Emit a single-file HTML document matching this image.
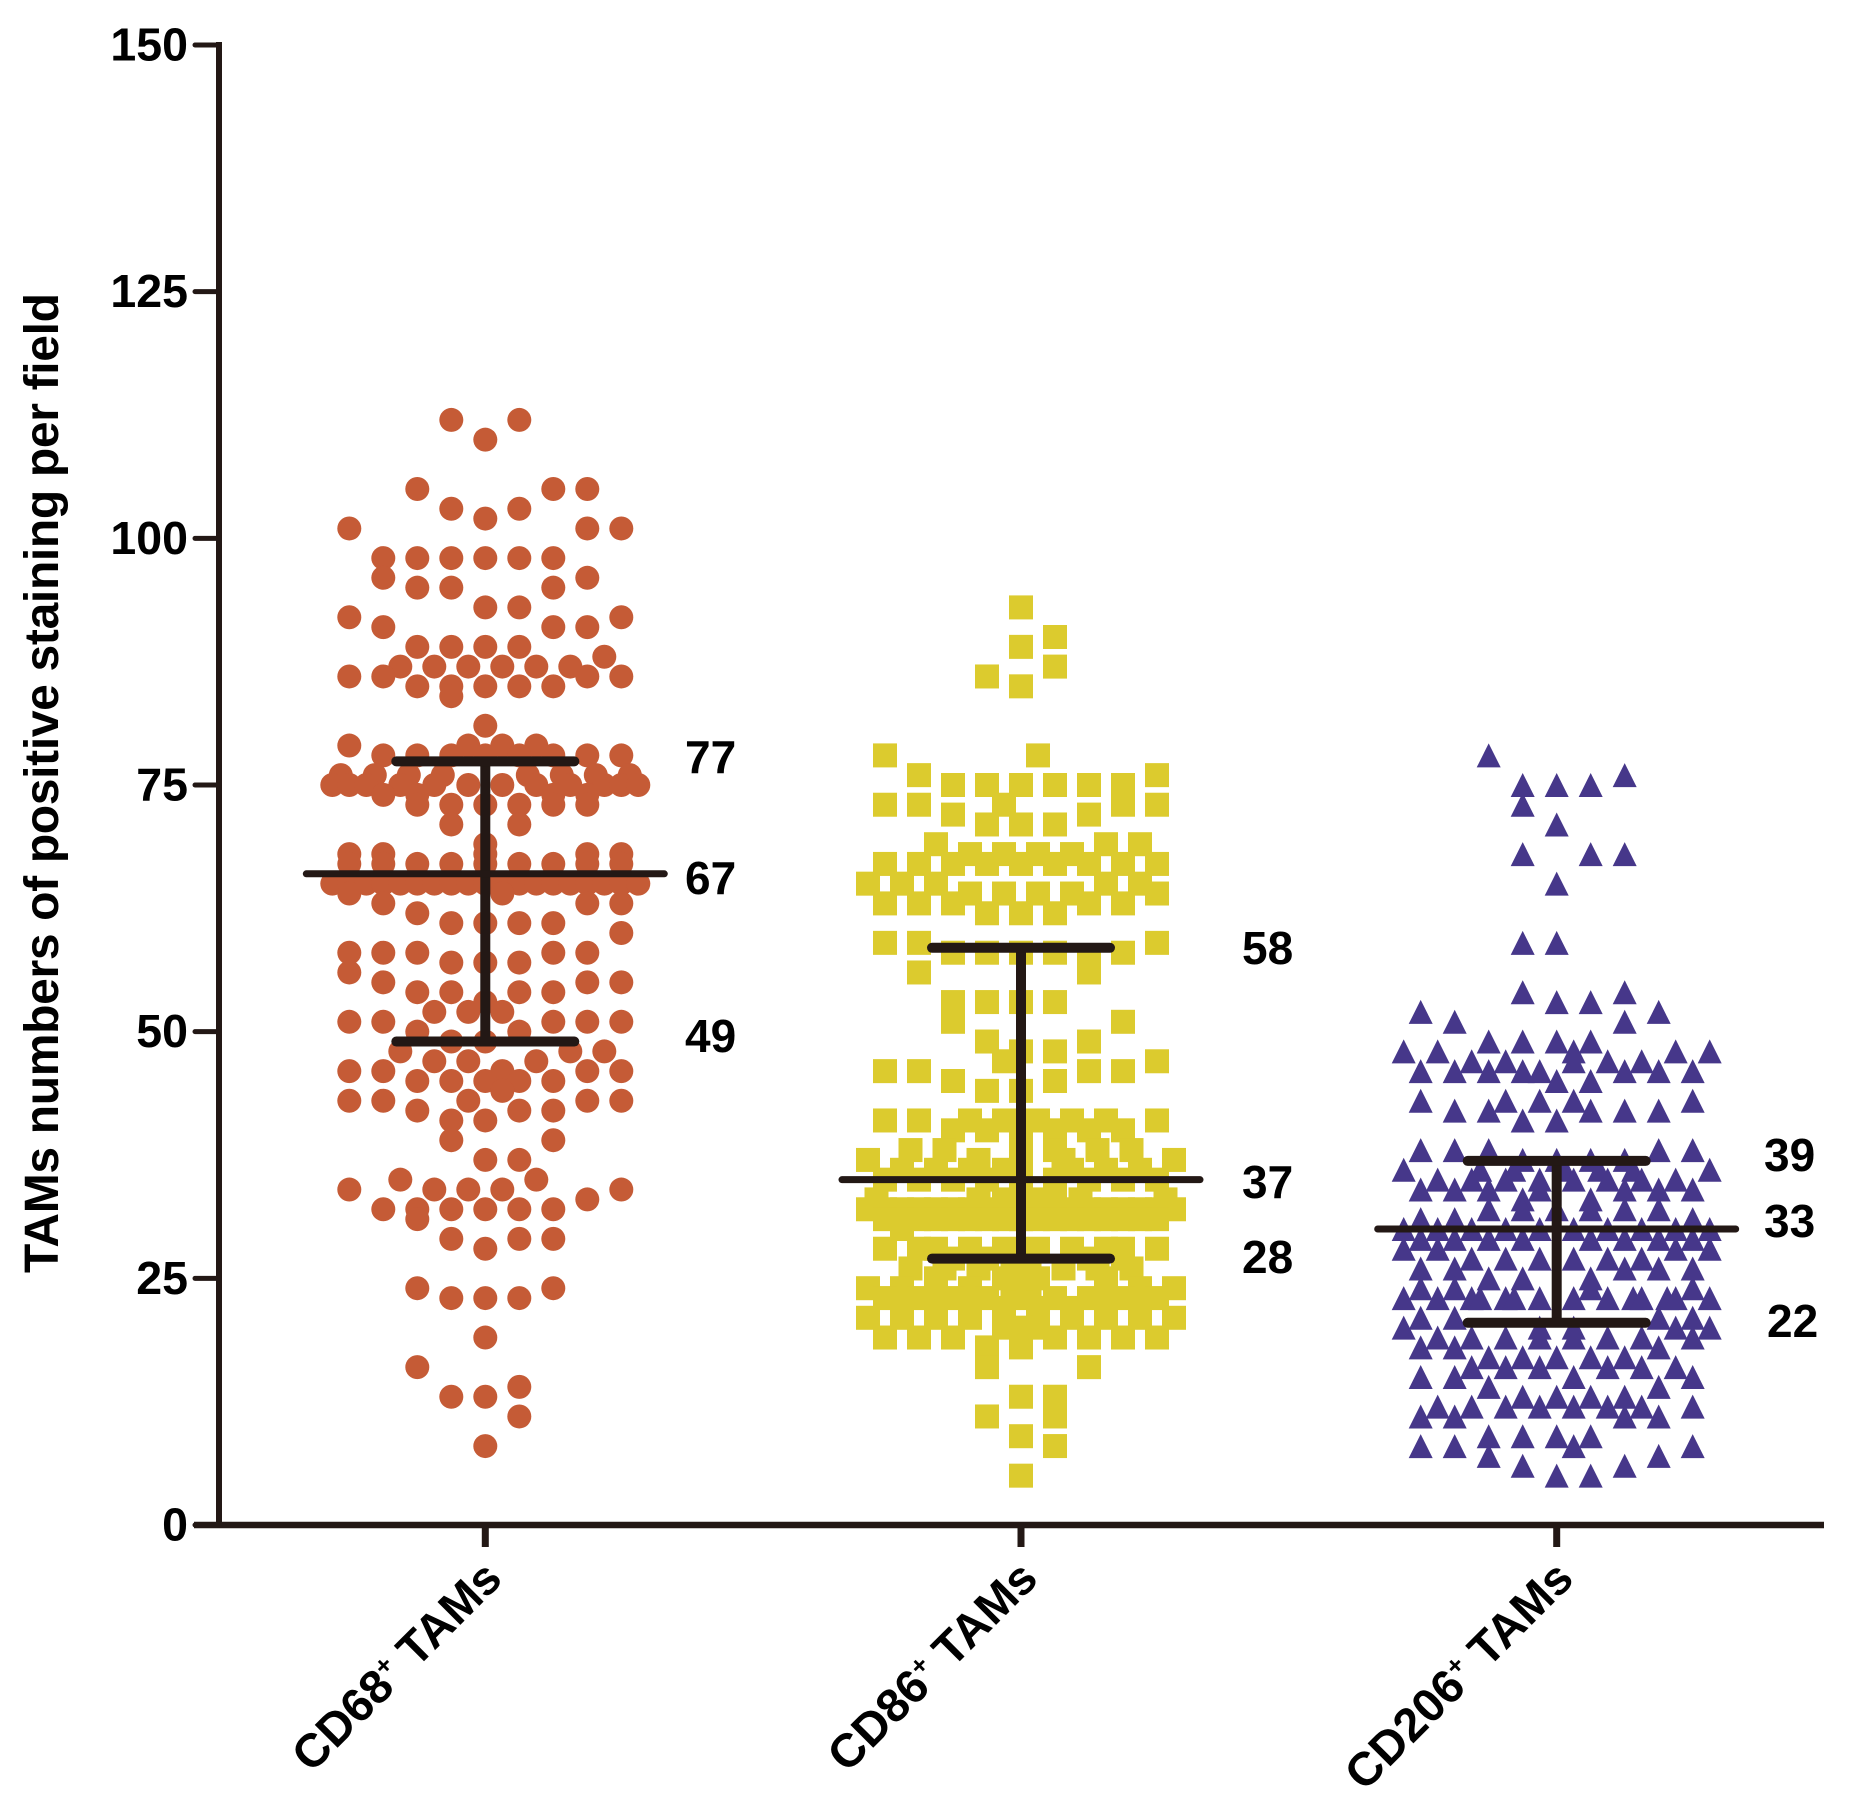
<!DOCTYPE html>
<html>
<head>
<meta charset="utf-8">
<title>TAMs numbers of positive staining per field</title>
<style>
html,body{margin:0;padding:0;background:#fff;}
svg{display:block;}
text{font-family:"Liberation Sans",Arial,sans-serif;font-weight:bold;fill:#000;}
</style>
</head>
<body>
<svg id="chart" xmlns="http://www.w3.org/2000/svg" width="1862" height="1807" viewBox="0 0 1862 1807">
  <rect width="1862" height="1807" fill="#fff"/>
  <g id="marks"></g>
  <g id="bars"></g>
  <g id="axes"></g>
  <text x="58" y="783" font-size="48" text-anchor="middle" textLength="980" lengthAdjust="spacing" transform="rotate(-90 58 783)">TAMs numbers of positive staining per field</text>
  <g font-size="46">
    <text x="685" y="773">77</text>
    <text x="685" y="894">67</text>
    <text x="685" y="1052">49</text>
    <text x="1242" y="964">58</text>
    <text x="1242" y="1198">37</text>
    <text x="1242" y="1273">28</text>
    <text x="1764" y="1171">39</text>
    <text x="1764" y="1237">33</text>
    <text x="1767" y="1337">22</text>
  </g>
</svg>
<script>
const categories = ["CD68", "CD86", "CD206"];
const yTicks = [0, 25, 50, 75, 100, 125, 150];
const medians = [66, 35, 30];
const lowerBars = [49, 27, 20.5];
const upperBars = [77.4, 58.5, 36.9];

const cd68Values = [
112,112,110,
105,105,105,103,103,102,101,101,101,
98,98,98,98,98,98,96,96,95,95,95,
93,93,92,92,91,91,91,89,89,89,89,88,
87,87,87,87,87,87,86,86,86,86,85,85,85,85,85,84,
81,79,79,79,79,78,78,78,78,78,78,78,78,
76,76,76,76,76,76,76,76,
75,75,75,75,75,75,75,75,75,75,75,75,
74,74,74,74,73,73,73,73,73,73,71,71,
69,68,68,68,68,68,
67,67,67,67,67,67,67,67,67,
65,65,65,65,65,65,65,65,65,65,65,65,65,65,65,65,65,65,65,
64,64,63,63,63,62,61,61,61,61,60,
58,58,58,58,58,57,57,57,56,55,55,55,
54,54,54,54,53,52,52,52,51,51,51,51,51,50,50,
49,49,48,48,48,47,47,47,46,46,46,46,46,
45,45,45,45,45,44,43,43,43,43,43,42,42,42,41,41,
39,39,37,37,35,35,34,34,34,34,34,33,
32,32,32,32,32,32,31,29,29,29,28,
24,24,23,23,23,19,16,14,13,13,11,8
];
const cd68Lanes = [
-2,2,0,
-4,4,6,-2,2,0,-8,6,8,
-6,-4,-2,0,2,4,-6,6,-4,-2,4,
0,2,-8,8,-6,4,6,-4,-2,0,2,7,
-5,-3,-1,1,3,5,-8,-6,6,8,-4,-2,0,2,4,-2,
0,-8,-1,1,3,-6,-4,-2,2,4,6,8,0,
-8.5,-6.5,-4.5,-2.5,2.5,4.5,6.5,8.5,
-9,-8,-7,-5,-3,-1,1,3,5,7,8,9,
-6,-4,4,6,-4,4,6,-2,0,2,-2,2,
0,-8,-6,6,8,0,
-8,-6,-4,-2,2,4,6,8,0,
-9,-8,-7,-6,-5,-4,-3,-2,-1,0,1,2,3,4,5,6,7,8,9,
-8,1,-6,6,8,-4,-2,0,2,4,8,
-8,-6,-4,4,6,-2,0,2,-8,-6,6,8,
-4,-2,2,4,0,-3,-1,1,-8,-6,4,6,8,-4,2,
-2,0,-5,5,7,-3,-1,3,-8,-6,6,8,1,
-4,-2,0,2,4,1,-8,-6,6,8,-1,-4,2,4,-2,0,
-2,4,0,2,-5,3,-8,-3,-1,1,8,6,
-6,-4,-2,0,2,4,-4,-2,2,4,0,
-4,4,-2,0,2,0,-4,2,-2,0,2,0
];

const cd86Values = [
93,90,89,87,86,85,78,78,76,76,
75,75,75,75,75,75,73,73,73,73,73,72,72,71,71,71,
69,69,69,68,68,68,68,
67,67,67,67,67,67,67,67,67,
65,65,65,65,65,64,64,64,64,64,63,63,63,63,63,62,62,62,
59,59,59,58,58,58,58,58,57,56,56,
53,53,53,53,51,51,49,49,48,48,47,47,46,46,46,46,45,45,44,44,
41,41,41,41,41,41,41,41,40,40,40,40,40,40,
38,38,38,38,38,38,37,37,37,37,37,
36,36,36,36,36,36,36,
35,35,35,35,35,35,35,35,35,
33,33,33,33,33,33,33,33,
32,32,32,32,32,32,32,32,32,32,
32,32,32,32,32,32,32,32,32,
31,31,31,31,31,31,31,31,31,30,
31,31,31,31,31,31,31,31,
28,28,28,28,28,28,28,28,28,28,
27,27,27,27,27,
26,26,26,26,26,26,26,26,
24,24,24,24,24,24,24,24,24,
23,23,23,23,23,23,23,23,23,
22,22,22,22,22,22,22,22,
21,21,21,21,21,21,21,21,21,21,
25,25,25,25,25,
20,20,20,19,19,19,19,19,19,19,18,18,16,16,13,13,11,11,9,8,5
];
const cd86Lanes = [
0,2,0,2,-2,0,-8,1,-6,8,
-4,-2,0,2,4,6,-8,-6,-1,6,8,-4,4,-2,0,2,
-5,5,7,-3,-1,1,3,
-8,-6,-4,-2,0,2,4,6,8,
-9,-7,-5,5,7,-3,-1,1,3,8,-8,-6,-4,4,6,-2,0,2,
-8,-6,8,-4,-2,0,2,6,4,-6,4,
-4,-2,0,2,-4,6,-2,4,0,2,-1,8,-8,-6,4,6,-4,2,-2,0,
-8,-6,-3,-1,1,3,5,8,-4,-2,0,2,4,6,
-6.5,-4.5,0,2,4.5,6.5,-9,-2.5,0,2.5,9,
-7,-5,-3,-1,3,5,7,
-8,-6,-4,-2,0,2,4,6,8,
-8.5,-2.5,-1,0,1,2,3.5,8.5,
-9,-7,-5,-3,-1,1,3,5,7,9,
-8,-6,-4,-2,0,2,4,6,8,
-8,-6,-4,-2,0,2,4,6,8,-7,
-7,-5,-3,-1,1,3,5,7,
-8,8,-6,-5,-3,-1,1,3,5,6,
-4,-2,0,4,6,
-6.5,-4.5,-2.5,-0.5,0.5,2.5,4.5,6.5,
-9,9,-7,-5,-3,-0.5,0.5,5,7,
-8,-6,-4,-2,0,2,4,6,8,
-7,-5,-3,-1,1,3,5,7,
-9,-7,-5,-3,-1,1,3,5,7,9,
-5,-1,0,1,5,
-1,0,1,-8,-6,-4,2,4,6,8,-2,0,-2,4,0,2,-2,2,0,2,0
];

const cd206Values = [
78,76,75,75,75,73,71,68,68,68,65,59,59,54,54,53,53,52,52,51,51,
49,49,49,49,48,48,48,48,48,47,47,47,47,47,
46,46,46,46,46,46,46,46,45,45,43,43,43,43,43,42,42,42,42,42,41,41,
38,38,38,38,38,37,37,37,37,
36,36,36,36,36,36,36,35,35,35,35,35,35,35,35,
34,34,34,34,34,34,34,33,33,32,32,32,32,32,32,31,31,31,
30,30,30,30,30,30,30,30,30,30,
29,29,29,29,29,29,29,29,28,28,28,28,
27,27,27,27,27,27,26,26,26,26,26,25,25,25,24,24,24,24,
23,23,23,23,23,23,23,23,23,23,23,23,23,23,
21,21,21,21,20,20,20,20,20,
19,19,19,19,19,19,19,19,18,18,18,17,17,17,17,17,
16,16,16,16,16,16,15,15,15,15,14,14,13,13,13,13,
12,12,12,12,12,12,12,12,11,11,11,11,9,9,9,9,8,8,8,8,7,7,6,6,5,5
];
const cd206Lanes = [
-4,4,-2,0,2,-2,0,-2,2,4,0,-2,0,-2,4,0,2,-8,6,-6,4,
-4,-2,0,2,-9,-7,7,9,1,-5,-3,3,5,1,
-8,-6,-4,-2,-1,4,6,8,0,2,-8,-3,-1,1,8,-6,-4,2,4,6,-2,0,
-8,-6,-4,6,8,-2,0,2,4,
-9,-4.5,-2.5,0.5,2.5,4.5,9,-7,-5,-3,-1,1,3,5,7,
-8,-6,-4,-1,4,6,8,-2,2,-4,-2,0,2,4,6,-8,-6,8,
-9,-7,-5,-3,-1,1,3,5,7,9,
-8,-6,-4,-2,2,4,6,8,-9,-7,7,9,
-5,-3,-1,1,3,5,-8,-6,4,6,8,-4,-2,2,-8,-6,8,2,
-9,-7,-5,-4.5,-3,-2.5,-1,1,3,4.5,5,6.5,7,9,
-8,-6,6,8,-9,7,9,-1,1,
-7,-5,-3,-1,1,3,5,8,-8,-6,6,-4,-2,0,2,4,
-5,-3,-1,3,5,7,-8,-6,1,8,-4,6,-2,0,2,4,
-7,-5,-3,-1,1,3,5,8,-8,-6,4,6,-4,-2,0,2,-8,-6,1,8,-4,6,-2,4,0,2
];

const SVG_NS = "http://www.w3.org/2000/svg";
const INK = "#231815";
const plotBottom = 1525;
const pxPerUnit = 1480 / 150;
const firstCenter = 485.3;
const categoryStep = 535.7;
const laneStep = 17;
const markSize = 24;

function yScale(v) { return plotBottom - v * pxPerUnit; }
function xScale(i) { return firstCenter + i * categoryStep; }
function laneX(i, lane) { return xScale(i) + lane * laneStep; }

function make(tag, parent, attrs) {
  const el = document.createElementNS(SVG_NS, tag);
  for (const k in attrs) el.setAttribute(k, attrs[k]);
  parent.appendChild(el);
  return el;
}

const marks = document.getElementById("marks");
const bars = document.getElementById("bars");
const axes = document.getElementById("axes");

const r = markSize / 2;
cd68Values.forEach(function (v, n) {
  const dot = make("circle", marks, { cx: laneX(0, cd68Lanes[n]), cy: yScale(v), r: r, fill: "#C55B36" });
  
  
});
cd86Values.forEach(function (v, n) {
  const sq = make("rect", marks, { x: laneX(1, cd86Lanes[n]) - r, y: yScale(v) - r, width: markSize, height: markSize, fill: "#DCCB2E" });
  
  
});
cd206Values.forEach(function (v, n) {
  const x = laneX(2, cd206Lanes[n]);
  const y = yScale(v);
  const tri = make("polygon", marks, { points: x + "," + (y - r) + " " + (x + r) + "," + (y + r) + " " + (x - r) + "," + (y + r), fill: "#46378A" });
  
  
});

categories.forEach(function (name, i) {
  const cx = xScale(i);
  const stem = make("line", bars, { x1: cx, x2: cx, y1: yScale(upperBars[i]), y2: yScale(lowerBars[i]), stroke: INK, "stroke-width": 10 });
  
  
  const med = make("line", bars, { x1: cx - 179, x2: cx + 179, y1: yScale(medians[i]), y2: yScale(medians[i]), stroke: INK, "stroke-width": 7, "stroke-linecap": "round" });
  
  
  [upperBars[i], lowerBars[i]].forEach(function (b) {
    const cap = make("line", bars, { x1: cx - 89, x2: cx + 89, y1: yScale(b), y2: yScale(b), stroke: INK, "stroke-width": 10, "stroke-linecap": "round" });
    
    
  });
});

const yAxisLine = make("line", axes, { x1: 219, x2: 219, y1: yScale(150) - 3, y2: plotBottom + 3, stroke: INK, "stroke-width": 6 });


const xAxisLine = make("line", axes, { x1: 194, x2: 1824, y1: plotBottom, y2: plotBottom, stroke: INK, "stroke-width": 6.5 });



yTicks.forEach(function (t) {
  const y = yScale(t);
  const tick = make("line", axes, { x1: 195, x2: 219, y1: y, y2: y, stroke: INK, "stroke-width": 5, "stroke-linecap": "round" });
  
  
  const label = make("text", axes, { x: 188, y: y + 15.5, "font-size": 46.5, "text-anchor": "end" });
  label.textContent = String(t);
  
  
});

categories.forEach(function (name, i) {
  const cx = xScale(i);
  const tick = make("line", axes, { x1: cx, x2: cx, y1: plotBottom, y2: plotBottom + 22, stroke: INK, "stroke-width": 7 });
  
  
  const ax = cx + 19;
  const ay = plotBottom + 56;
  const label = make("text", axes, { x: ax, y: ay, "font-size": 47, "text-anchor": "end", transform: "rotate(-45 " + ax + " " + ay + ")" });
  
  
  const a = make("tspan", label, {});
  a.textContent = name;
  const plus = make("tspan", label, { "font-size": 26, dy: -17 });
  plus.textContent = "+";
  const b = make("tspan", label, { dy: 17 });
  b.textContent = " TAMs";
});
</script>
</body>
</html>
